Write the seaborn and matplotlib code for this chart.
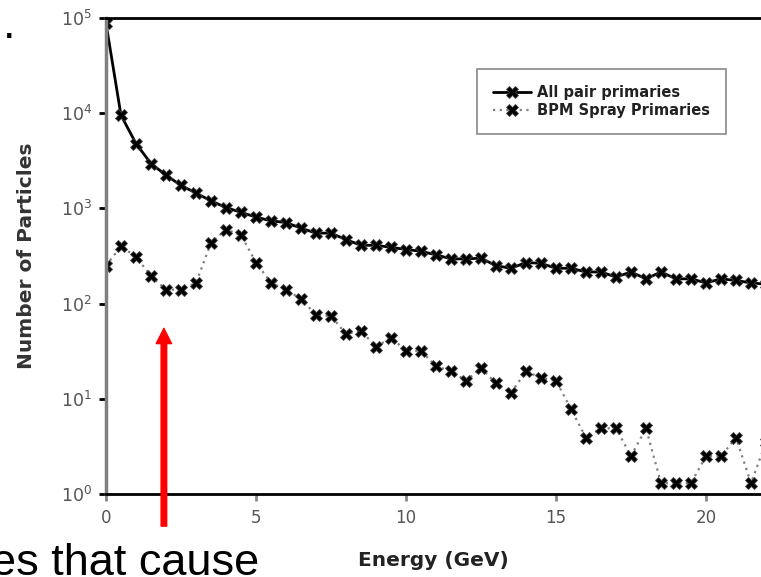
import matplotlib
matplotlib.use("Agg")
import matplotlib.pyplot as plt
from matplotlib.ticker import NullLocator
import seaborn as sns

# ---------- DATA ----------
energy_gev = [0.0, 0.5, 1.0, 1.5, 2.0, 2.5, 3.0, 3.5, 4.0, 4.5,
              5.0, 5.5, 6.0, 6.5, 7.0, 7.5, 8.0, 8.5, 9.0, 9.5,
              10.0, 10.5, 11.0, 11.5, 12.0, 12.5, 13.0, 13.5, 14.0, 14.5,
              15.0, 15.5, 16.0, 16.5, 17.0, 17.5, 18.0, 18.5, 19.0, 19.5,
              20.0, 20.5, 21.0, 21.5, 22.0]
all_pair = [88000, 9500, 4800, 2950, 2240, 1740, 1450, 1200, 1020, 910,
            810, 740, 710, 620, 550, 550, 470, 410, 410, 390,
            370, 355, 325, 295, 295, 300, 250, 235, 270, 265,
            235, 235, 215, 215, 190, 215, 182, 215, 182, 182,
            165, 182, 175, 165, 160]
bpm_spray = [250, 400, 310, 195, 140, 140, 165, 435, 600, 525,
             270, 165, 140, 112, 76, 74, 48, 52, 35, 44,
             32, 32, 22, 19.5, 15.5, 21, 14.5, 11.5, 19.5, 16.5,
             15.5, 7.8, 3.9, 4.9, 4.9, 2.5, 4.9, 1.3, 1.3, 1.3,
             2.5, 2.5, 3.9, 1.3, 3.5]
series_labels = ["All pair primaries", "BPM Spray Primaries"]
y_ticks = [1, 10, 100, 1000, 10000, 100000]
x_ticks = [0, 5, 10, 15, 20]
arrow_energy = 1.93

# ---------- STYLE ----------
sns.set_style("white")
plt.rcParams["font.family"] = ["DejaVu Sans"]

fig = plt.figure(figsize=(7.61, 5.77), dpi=100)
ax = fig.add_axes([106 / 761, 83 / 577, 655 / 761, 476 / 577])

sns.lineplot(x=energy_gev, y=all_pair, ax=ax, color="black", linewidth=2,
             marker="X", markersize=8, markeredgewidth=0.6,
             markeredgecolor="#444", label=series_labels[0])
sns.lineplot(x=energy_gev, y=bpm_spray, ax=ax, color="#808080", linewidth=1.6,
             linestyle=(0, (1, 2)), marker="X", markersize=8,
             markerfacecolor="black", markeredgewidth=0.6,
             markeredgecolor="#444", label=series_labels[1])

ax.set_yscale("log")
ax.set_ylim(1, 1e5)
ax.set_xlim(0, 655 / 30)
ax.set_yticks(y_ticks)
ax.yaxis.set_minor_locator(NullLocator())
ax.set_xticks(x_ticks)

# spines
ax.spines["right"].set_visible(False)
ax.spines["left"].set_color("#808080")
ax.spines["left"].set_linewidth(2.5)
ax.spines["bottom"].set_color("black")
ax.spines["bottom"].set_linewidth(2)
ax.spines["top"].set_color("black")
ax.spines["top"].set_linewidth(2)

ax.tick_params(axis="y", which="major", direction="out", length=5, width=2,
               color="black", labelsize=12.5, labelcolor="#555", pad=5, left=True)
ax.tick_params(axis="x", which="major", direction="out", length=5, width=2,
               color="#888", labelsize=12, labelcolor="#555", pad=6, bottom=True)

ax.set_xlabel("Energy (GeV)", fontsize=14.5, fontweight="bold", color="#222",
              labelpad=17)
ax.set_ylabel("Number of Particles", fontsize=14.5, fontweight="bold",
              color="#333", labelpad=18)

leg = ax.legend(loc="upper left", bbox_to_anchor=(0.566, 0.893), borderaxespad=0,
                frameon=True, fancybox=False, fontsize=10.5, handlelength=2.6,
                handletextpad=0.4, labelspacing=0.2, borderpad=1.1)
leg.get_frame().set_edgecolor("#777")
leg.get_frame().set_linewidth(1.3)
for t in leg.get_texts():
    t.set_fontweight("bold")
    t.set_color("#222")

# red arrow pointing up at ~2 GeV
ax.annotate("", xy=(arrow_energy, 55), xytext=(arrow_energy, 0.46),
            arrowprops=dict(color="red", width=4, headwidth=11, headlength=11,
                            shrink=0),
            annotation_clip=False, zorder=10)

# slide text fragments around the chart
fig.text(3 / 761, 1 - 38 / 577, ".", fontsize=32.5, family="Liberation Sans",
         color="black", ha="left", va="baseline")
fig.text(259 / 761, 2 / 577, "es that cause", fontsize=32.5,
         family="Liberation Sans", color="black", ha="right", va="baseline")

fig.savefig("out.png", dpi=100)
